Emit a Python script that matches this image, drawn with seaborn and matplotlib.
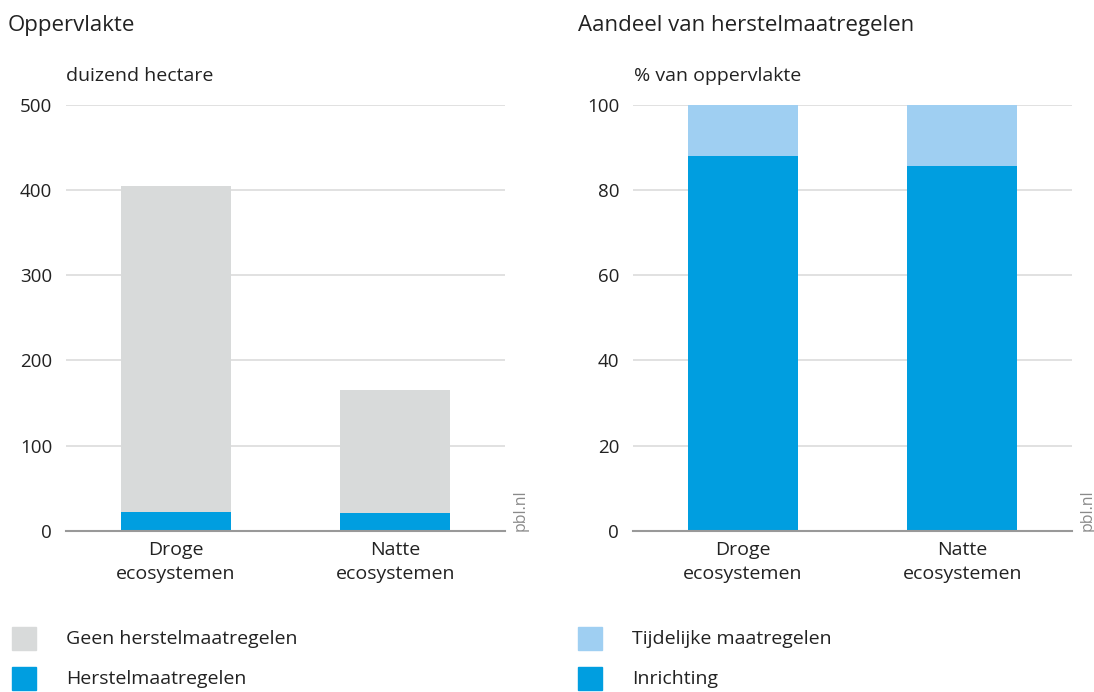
import matplotlib
matplotlib.use("Agg")
import matplotlib.pyplot as plt
import matplotlib.patches as mpatches
import seaborn as sns
import numpy as np

categories = ["Droge\necosystemen", "Natte\necosystemen"]
# Left panel: area (thousand hectare)
herstel = [22, 21]
geen_herstel = [382, 144]
# Right panel: share (% of area)
inrichting = [88, 85.5]
tijdelijk = [12, 14.5]

GRAY = "#d8dada"
BLUE = "#009ee0"
LIGHT = "#9fcff2"

sns.set_theme(style="white")
plt.rcParams["font.family"] = ["Open Sans", "DejaVu Sans"]

fig = plt.figure(figsize=(10.94, 6.92), dpi=100)
ax1 = fig.add_axes([66/1094, 1-531/692, (505-66)/1094, (531-104.5)/692])
ax2 = fig.add_axes([633/1094, 1-531/692, (1072-633)/1094, (531-104.5)/692])

tot1 = list(np.add(herstel, geen_herstel))
sns.barplot(x=categories, y=tot1, color=GRAY, width=0.5, saturation=1, ax=ax1, zorder=2, linewidth=0)
sns.barplot(x=categories, y=herstel, color=BLUE, width=0.5, saturation=1, ax=ax1, zorder=3, linewidth=0)

tot2 = list(np.add(inrichting, tijdelijk))
sns.barplot(x=categories, y=tot2, color=LIGHT, width=0.5, saturation=1, ax=ax2, zorder=2, linewidth=0)
sns.barplot(x=categories, y=inrichting, color=BLUE, width=0.5, saturation=1, ax=ax2, zorder=3, linewidth=0)

for ax, ymax, step in [(ax1, 500, 100), (ax2, 100, 20)]:
    ax.set_ylim(0, ymax)
    ax.set_xlim(-0.5, 1.5)
    ax.set_yticks(np.arange(0, ymax + 1, step))
    ax.yaxis.grid(True, color="#dcdcdc", linewidth=1.2, zorder=0)
    ax.set_axisbelow(True)
    for s in ["left", "right", "top"]:
        ax.spines[s].set_visible(False)
    ax.spines["bottom"].set_color("#999999")
    ax.spines["bottom"].set_linewidth(1.5)
    ax.spines["bottom"].set_zorder(5)
    ax.tick_params(axis="y", length=0, pad=10, labelsize=13.5, colors="#222222")
    ax.tick_params(axis="x", length=0, pad=7, labelsize=14, colors="#222222")
    for lab in ax.get_xticklabels():
        lab.set_linespacing(1.45)
    ax.set_xlabel("")
    ax.set_ylabel("")
    ax.text(1.035, 0.0, "pbl.nl", transform=ax.transAxes, rotation=90,
            fontsize=11.5, color="#8a8a8a", ha="center", va="bottom")

fig.text(8/1094, 1-25/692, "Oppervlakte", fontsize=16, color="#222222", va="center", ha="left")
fig.text(66/1094, 1-76/692, "duizend hectare", fontsize=14, color="#222222", va="center", ha="left")
fig.text(578/1094, 1-25/692, "Aandeel van herstelmaatregelen", fontsize=16, color="#222222", va="center", ha="left")
fig.text(634/1094, 1-76/692, "% van oppervlakte", fontsize=14, color="#222222", va="center", ha="left")

def legend_item(x, y, color, label):
    fig.patches.append(mpatches.Rectangle((x/1094, 1-(y+11)/692), 24/1094, 23/692,
                                          transform=fig.transFigure, color=color, figure=fig))
    fig.text((x+54)/1094, 1-y/692, label, fontsize=14, color="#222222", va="center", ha="left")

legend_item(12, 639, GRAY, "Geen herstelmaatregelen")
legend_item(12, 679, BLUE, "Herstelmaatregelen")
legend_item(578, 639, LIGHT, "Tijdelijke maatregelen")
legend_item(578, 679, BLUE, "Inrichting")

fig.savefig("out.png", dpi=100)
